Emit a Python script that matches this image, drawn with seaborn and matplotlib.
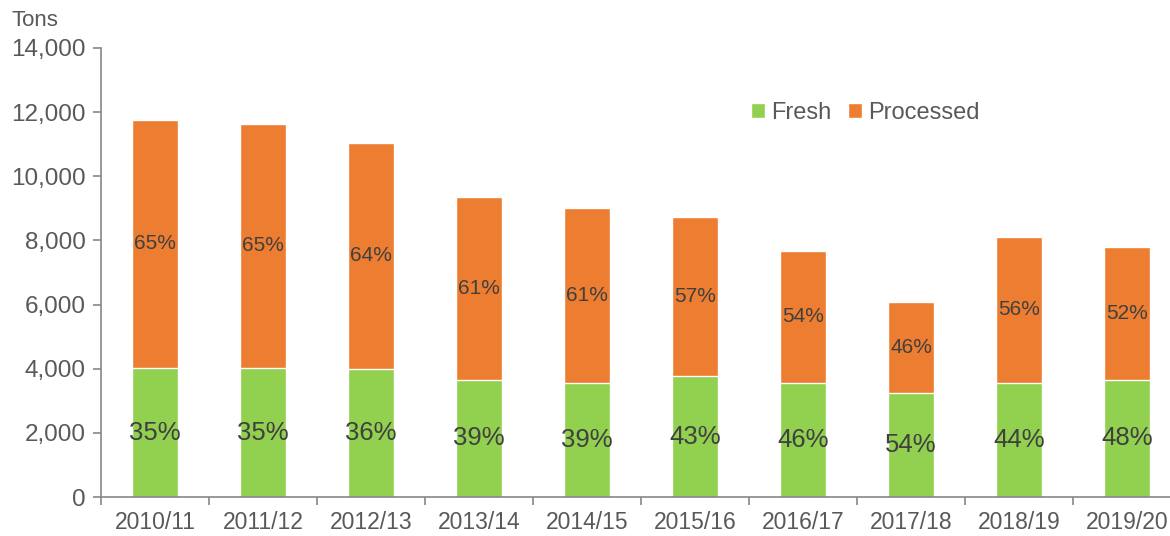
import matplotlib.pyplot as plt
import seaborn as sns
import pandas as pd
import numpy as np

seasons = ["2010/11", "2011/12", "2012/13", "2013/14", "2014/15",
           "2015/16", "2016/17", "2017/18", "2018/19", "2019/20"]
fresh = [4020, 4020, 3990, 3650, 3550, 3770, 3550, 3240, 3550, 3650]
total = [11760, 11640, 11050, 9360, 9020, 8740, 7680, 6080, 8120, 7800]
fresh_pct = ["35%", "35%", "36%", "39%", "39%", "43%", "46%", "54%", "44%", "48%"]
processed_pct = ["65%", "65%", "64%", "61%", "61%", "57%", "54%", "46%", "56%", "52%"]

sns.set_theme(style="white")
plt.rcParams['font.family'] = ['Liberation Sans', 'DejaVu Sans']

green = '#92D050'
orange = '#ED7D31'
grey_txt = '#595959'
axis_col = '#868686'

df = pd.DataFrame({"season": seasons, "fresh": fresh, "total": total})

fig = plt.figure(figsize=(11.7, 5.36), dpi=100)
ax = fig.add_axes([101 / 1170, 1 - 497 / 536, 1080 / 1170, 449 / 536])

sns.barplot(data=df, x="season", y="total", color=orange, width=0.42,
            saturation=1, ax=ax, label="Processed")
sns.barplot(data=df, x="season", y="fresh", color=green, width=0.42,
            saturation=1, ax=ax, label="Fresh")

tot_bars = ax.containers[0]
fr_bars = ax.containers[1]
for i, (pt, pf) in enumerate(zip(tot_bars, fr_bars)):
    cx = pf.get_x() + pf.get_width() / 2
    ax.text(cx, fresh[i] / 2, fresh_pct[i], ha='center', va='center',
            fontsize=18.5, color='#404040')
    ax.text(cx, (fresh[i] + total[i]) / 2, processed_pct[i], ha='center',
            va='center', fontsize=15, color='#404040')

ax.set_ylim(0, 14000)
ax.set_xlim(-0.5, len(seasons) - 0.5)
ax.set_yticks(range(0, 14001, 2000))
ax.set_yticklabels([f"{v:,}" for v in range(0, 14001, 2000)])
ax.set_xticks(np.arange(-0.5, len(seasons), 1), minor=True)
ax.tick_params(axis='x', which='major', length=0, pad=10, labelsize=16.5,
               labelcolor=grey_txt)
ax.tick_params(axis='x', which='minor', length=6, direction='out',
               color=axis_col, width=1.2, bottom=True)
ax.tick_params(axis='y', length=6, direction='out', color=axis_col,
               width=1.2, labelsize=17.5, labelcolor=grey_txt, left=True, pad=5)
ax.set_xlabel("")
ax.set_ylabel("")
for s in ['top', 'right']:
    ax.spines[s].set_visible(False)
for s in ['left', 'bottom']:
    ax.spines[s].set_color(axis_col)
    ax.spines[s].set_linewidth(1.2)

handles, labels = ax.get_legend_handles_labels()
order = [labels.index("Fresh"), labels.index("Processed")]
leg = ax.legend([handles[k] for k in order], [labels[k] for k in order],
                loc='center left', bbox_to_anchor=(0.593, 0.855), ncol=2,
                frameon=False, fontsize=17, handlelength=0.6, handleheight=0.6,
                handletextpad=0.25, columnspacing=0.7, borderaxespad=0)
for t in leg.get_texts():
    t.set_color(grey_txt)

fig.text(12 / 1170, 1 - 21 / 536, "Tons", fontsize=16, color=grey_txt,
         va='center', ha='left')

fig.savefig("out.png", dpi=100)
